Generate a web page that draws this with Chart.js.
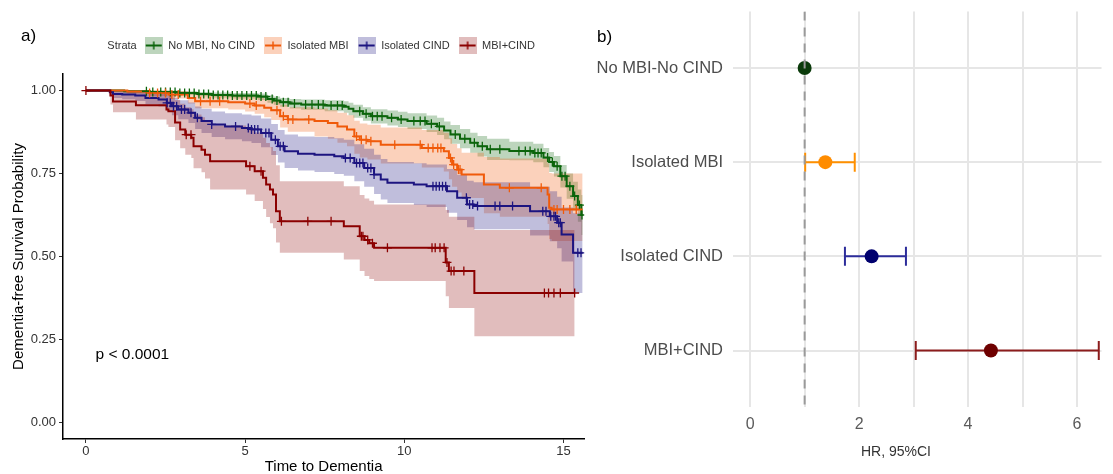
<!DOCTYPE html>
<html>
<head>
<meta charset="utf-8">
<script src="https://cdn.jsdelivr.net/npm/chart.js@4.4.1/dist/chart.umd.min.js"></script>
<style>
html,body{margin:0;padding:0;background:#fff;}
#wrap{position:relative;width:1113px;height:474px;overflow:hidden;background:#fff;}
#ca{position:absolute;left:0;top:0;}
#cb{position:absolute;left:590px;top:0;}
.tag{position:absolute;font-family:'Liberation Sans',Arial,Helvetica,sans-serif;font-size:17px;color:#000;line-height:20px;}
</style>
</head>
<body>
<div id="wrap">
  <canvas id="ca" width="590" height="474"></canvas>
  <canvas id="cb" width="523" height="474"></canvas>
  <div class="tag" style="left:21px;top:26px;">a)</div>
  <div class="tag" style="left:597px;top:27px;">b)</div>
</div>
<script>
// ---------------- DATA: panel a (Kaplan-Meier) ----------------
const kmGroups = ['No MBI, No CIND', 'Isolated MBI', 'Isolated CIND', 'MBI+CIND'];
const kmLegendTitle = 'Strata';
const kmXTitle = 'Time to Dementia';
const kmYTitle = 'Dementia-free Survival Probability';
const kmTicksX = [0, 5, 10, 15];
const kmTicksY = [0, 0.25, 0.5, 0.75, 1];
const pValueText = 'p < 0.0001';

const greenTime  = [0, 1.2, 2.0, 2.9, 3.5, 3.95, 4.6, 5.4, 5.7, 5.9, 6.1, 6.4, 6.76, 7.5, 8.1, 8.25, 8.4, 8.7, 8.95, 9.47, 9.8, 10.1, 10.7, 11.03, 11.25, 11.45, 11.75, 12.07, 12.3, 12.6, 13.3, 14.05, 14.37, 14.55, 14.7, 14.9, 15.1, 15.3, 15.45, 15.56, 15.6];
const greenSurv  = [1, 0.998, 0.996, 0.993, 0.99, 0.987, 0.985, 0.982, 0.975, 0.97, 0.965, 0.961, 0.958, 0.955, 0.951, 0.945, 0.938, 0.93, 0.923, 0.918, 0.913, 0.908, 0.9, 0.892, 0.88, 0.868, 0.855, 0.843, 0.832, 0.823, 0.818, 0.812, 0.798, 0.785, 0.772, 0.742, 0.712, 0.682, 0.655, 0.625, 0.625];
const greenUpper = [1, 1, 1, 0.998, 0.996, 0.994, 0.993, 0.991, 0.986, 0.982, 0.978, 0.975, 0.973, 0.971, 0.968, 0.963, 0.957, 0.95, 0.944, 0.94, 0.936, 0.932, 0.925, 0.918, 0.907, 0.896, 0.884, 0.873, 0.863, 0.855, 0.846, 0.84, 0.827, 0.815, 0.803, 0.776, 0.75, 0.725, 0.702, 0.685, 0.685];
const greenLower = [1, 0.995, 0.991, 0.987, 0.983, 0.979, 0.976, 0.972, 0.963, 0.957, 0.951, 0.946, 0.942, 0.938, 0.933, 0.926, 0.918, 0.909, 0.901, 0.895, 0.89, 0.884, 0.875, 0.866, 0.853, 0.84, 0.826, 0.813, 0.801, 0.791, 0.79, 0.784, 0.769, 0.755, 0.741, 0.708, 0.674, 0.639, 0.605, 0.565, 0.565];
const greenCensor = [1.9, 2.1, 2.35, 2.5, 2.65, 2.8, 2.95, 3.1, 3.25, 3.4, 3.55, 3.7, 3.85, 4.0, 4.15, 4.3, 4.45, 4.6, 4.75, 4.9, 5.05, 5.2, 5.35, 5.5, 5.65, 5.85, 6.0, 6.2, 6.35, 6.55, 6.9, 7.1, 7.3, 7.45, 7.7, 7.9, 8.05, 8.6, 8.8, 9.0, 9.15, 9.3, 9.6, 9.9, 10.3, 10.5, 10.65, 10.85, 11.1, 11.6, 11.9, 12.2, 12.45, 12.7, 13.0, 13.6, 13.8, 13.95, 14.1, 14.2, 14.3, 14.5, 14.65, 14.8, 14.95, 15.05, 15.2, 15.35, 15.5, 15.58];

const orangeTime  = [0, 1.3, 1.97, 2.6, 3.2, 3.43, 4.47, 5.0, 5.3, 5.6, 5.82, 6.1, 6.34, 7.18, 7.6, 7.9, 8.2, 8.43, 8.6, 8.84, 9.26, 10.55, 11.24, 11.4, 11.5, 11.66, 11.8, 12.5, 13.0, 14.5, 14.55, 14.63, 15.6];
const orangeSurv  = [1, 0.997, 0.993, 0.988, 0.978, 0.968, 0.965, 0.961, 0.955, 0.948, 0.941, 0.923, 0.913, 0.908, 0.902, 0.892, 0.883, 0.862, 0.852, 0.847, 0.837, 0.827, 0.817, 0.797, 0.777, 0.762, 0.747, 0.717, 0.707, 0.687, 0.647, 0.642, 0.642];
const orangeUpper = [1, 1, 1, 0.999, 0.994, 0.988, 0.986, 0.984, 0.98, 0.975, 0.97, 0.957, 0.95, 0.946, 0.941, 0.933, 0.926, 0.909, 0.901, 0.897, 0.889, 0.881, 0.873, 0.856, 0.839, 0.826, 0.813, 0.8, 0.795, 0.78, 0.752, 0.75, 0.75];
const orangeLower = [1, 0.991, 0.984, 0.976, 0.961, 0.947, 0.943, 0.937, 0.93, 0.92, 0.911, 0.889, 0.876, 0.862, 0.855, 0.843, 0.832, 0.81, 0.798, 0.792, 0.78, 0.768, 0.756, 0.733, 0.71, 0.693, 0.676, 0.63, 0.62, 0.598, 0.553, 0.547, 0.547];
const orangeCensor = [2.0, 2.25, 2.5, 2.7, 2.9, 3.6, 3.9, 4.2, 5.15, 5.35, 6.0, 6.2, 6.35, 6.5, 7.0, 8.5, 8.65, 8.8, 8.95, 9.7, 10.5, 10.75, 10.9, 11.05, 11.15, 11.45, 11.55, 11.7, 11.75, 13.3, 14.3, 14.7, 14.8, 15.0, 15.2, 15.4];

const blueTime  = [0, 0.75, 0.85, 1.14, 1.55, 1.87, 2.28, 2.54, 2.7, 2.9, 3.22, 3.43, 3.63, 3.95, 4.37, 4.9, 5.2, 5.5, 5.82, 6.03, 6.24, 6.66, 7.18, 7.8, 8.1, 8.43, 8.74, 9.05, 9.26, 9.47, 10.3, 10.7, 11.34, 11.66, 11.97, 12.18, 13.95, 14.57, 14.8, 14.94, 15.3, 15.6];
const blueSurv  = [1, 0.995, 0.99, 0.988, 0.985, 0.978, 0.973, 0.963, 0.953, 0.943, 0.933, 0.918, 0.908, 0.898, 0.892, 0.887, 0.883, 0.872, 0.852, 0.832, 0.817, 0.81, 0.807, 0.802, 0.797, 0.782, 0.767, 0.747, 0.732, 0.722, 0.717, 0.712, 0.697, 0.677, 0.657, 0.652, 0.636, 0.621, 0.602, 0.566, 0.511, 0.511];
const blueUpper = [1, 1, 1, 1, 0.998, 0.994, 0.991, 0.985, 0.978, 0.971, 0.964, 0.952, 0.945, 0.937, 0.932, 0.928, 0.925, 0.916, 0.899, 0.881, 0.868, 0.862, 0.86, 0.856, 0.852, 0.838, 0.825, 0.807, 0.794, 0.785, 0.781, 0.777, 0.764, 0.746, 0.728, 0.724, 0.71, 0.697, 0.68, 0.648, 0.63, 0.63];
const blueLower = [1, 0.985, 0.978, 0.974, 0.969, 0.959, 0.952, 0.939, 0.926, 0.914, 0.902, 0.884, 0.872, 0.86, 0.853, 0.847, 0.842, 0.829, 0.806, 0.783, 0.767, 0.759, 0.755, 0.749, 0.743, 0.727, 0.71, 0.688, 0.672, 0.661, 0.655, 0.649, 0.632, 0.61, 0.588, 0.582, 0.563, 0.546, 0.525, 0.485, 0.39, 0.39];
const blueCensor = [2.55, 2.65, 2.75, 2.85, 3.0, 3.1, 3.3, 3.5, 3.95, 4.7, 5.1, 5.2, 5.3, 5.4, 5.65, 5.75, 5.95, 6.1, 6.2, 8.15, 8.3, 8.5, 8.6, 8.7, 8.85, 8.95, 9.05, 10.9, 11.0, 11.1, 11.2, 11.3, 11.95, 12.05, 12.15, 12.3, 12.85, 13.0, 13.4, 14.35, 14.45, 14.6, 14.7, 14.75, 14.85, 14.9, 15.45, 15.55];

const redTime  = [0, 0.77, 0.85, 1.57, 2.53, 2.59, 2.8, 2.96, 3.12, 3.31, 3.38, 3.63, 3.74, 3.9, 5.03, 5.3, 5.56, 5.66, 5.78, 5.875, 5.97, 6.09, 8.1, 8.6, 8.75, 8.9, 9.05, 11.3, 11.4, 12.2, 15.35];
const redSurv  = [1, 0.985, 0.967, 0.956, 0.943, 0.938, 0.904, 0.883, 0.867, 0.858, 0.832, 0.822, 0.807, 0.787, 0.772, 0.757, 0.737, 0.717, 0.702, 0.687, 0.636, 0.606, 0.591, 0.561, 0.55, 0.54, 0.526, 0.482, 0.456, 0.39, 0.39];
const redUpper = [1, 1, 0.999, 0.995, 0.99, 0.988, 0.972, 0.96, 0.95, 0.944, 0.928, 0.92, 0.91, 0.895, 0.886, 0.874, 0.858, 0.842, 0.83, 0.818, 0.775, 0.727, 0.712, 0.685, 0.675, 0.668, 0.657, 0.64, 0.62, 0.58, 0.58];
const redLower = [1, 0.958, 0.935, 0.913, 0.898, 0.89, 0.85, 0.826, 0.807, 0.797, 0.766, 0.754, 0.735, 0.702, 0.687, 0.667, 0.643, 0.619, 0.6, 0.585, 0.542, 0.511, 0.491, 0.456, 0.441, 0.432, 0.426, 0.38, 0.345, 0.26, 0.26];
const redCensor = [0, 3.15, 3.3, 5.15, 5.5, 6.14, 6.97, 7.7, 8.65, 8.7, 8.85, 9.0, 9.47, 10.87, 10.97, 11.12, 11.25, 11.34, 11.47, 11.56, 11.87, 14.4, 14.53, 14.7, 14.9, 15.35];

// ---------------- DATA: panel b (forest plot) ----------------
const forestLabels = ['No MBI-No CIND', 'Isolated MBI', 'Isolated CIND', 'MBI+CIND'];
const hrEstimate = [1.00, 1.38, 2.23, 4.42];
const hrLower    = [null, 1.01, 1.74, 3.04];
const hrUpper    = [null, 1.92, 2.86, 6.40];
const hrReference = 1;
const hrTicks = [0, 1, 2, 3, 4, 5, 6];
const hrTitle = 'HR, 95%CI';

// ---------------- styling ----------------
const FONT = "'Liberation Sans', Arial, Helvetica, sans-serif";
const kmStyles = [
  {line: '#0b640b', band: 'rgba(11,100,11,0.27)'},
  {line: '#f05a0a', band: 'rgba(240,90,10,0.28)'},
  {line: '#1c1480', band: 'rgba(28,20,128,0.28)'},
  {line: '#8b0000', band: 'rgba(139,0,0,0.26)'}
];
const kmSeries = [
  {time: greenTime, surv: greenSurv, upper: greenUpper, lower: greenLower, censor: greenCensor},
  {time: orangeTime, surv: orangeSurv, upper: orangeUpper, lower: orangeLower, censor: orangeCensor},
  {time: blueTime, surv: blueSurv, upper: blueUpper, lower: blueLower, censor: blueCensor},
  {time: redTime, surv: redSurv, upper: redUpper, lower: redLower, censor: redCensor}
];
const forestPointColors = ['#0b3b0b', '#ff8c00', '#00006e', '#6e0000'];
const forestBarColors = ['#0b3b0b', '#ff9000', '#2c2c9a', '#8c1c1c'];

function stepValueAt(times, surv, t) {
  let v = surv[0];
  for (let i = 0; i < times.length; i++) { if (times[i] <= t) v = surv[i]; else break; }
  return v;
}

function keyImage(fill, line) {
  const c = document.createElement('canvas');
  c.width = 18; c.height = 17;
  const g = c.getContext('2d');
  g.fillStyle = '#fff'; g.fillRect(0, 0, 18, 17);
  g.fillStyle = fill; g.fillRect(0, 0, 18, 17);
  g.strokeStyle = line; g.lineWidth = 2;
  g.beginPath(); g.moveTo(1, 8.5); g.lineTo(17, 8.5); g.stroke();
  g.lineWidth = 1.5;
  g.beginPath(); g.moveTo(9, 4.5); g.lineTo(9, 12.5); g.stroke();
  return c;
}
const blankKey = document.createElement('canvas'); blankKey.width = 1; blankKey.height = 1;

// ---------------- panel a ----------------
const dsA = [];
kmSeries.forEach((s, k) => {
  dsA.push({label: kmGroups[k] + ' upper', data: s.time.map((t, i) => ({x: t, y: s.upper[i]})),
    stepped: 'before', borderWidth: 0, borderColor: 'transparent', pointRadius: 0,
    fill: '+1', backgroundColor: kmStyles[k].band, order: 23 - k});
  dsA.push({label: kmGroups[k] + ' lower', data: s.time.map((t, i) => ({x: t, y: s.lower[i]})),
    stepped: 'before', borderWidth: 0, borderColor: 'transparent', pointRadius: 0,
    fill: false, order: 23 - k});
});
kmSeries.forEach((s, k) => {
  dsA.push({label: kmGroups[k], data: s.time.map((t, i) => ({x: t, y: s.surv[i]})),
    stepped: 'before', borderColor: kmStyles[k].line, borderWidth: 2, pointRadius: 0,
    fill: false, order: 13 - k});
});
kmSeries.forEach((s, k) => {
  dsA.push({label: kmGroups[k] + ' censored', data: s.censor.map(t => ({x: t, y: stepValueAt(s.time, s.surv, t)})),
    showLine: false, pointStyle: 'cross', pointRadius: 4.5, pointBorderColor: kmStyles[k].line,
    pointBackgroundColor: kmStyles[k].line, pointBorderWidth: 1.3, order: 3 - k});
});

const legendGap = {
  id: 'legendGap',
  beforeLayout(chart) {
    const lg = chart.legend;
    if (lg && !lg.__patched) {
      const orig = lg.fit;
      lg.fit = function () { orig.call(this); this.height += 13; };
      lg.__patched = true;
    }
  }
};
const annotA = {
  id: 'annotA',
  afterDraw(chart) {
    const ctx = chart.ctx;
    ctx.save();
    const lg = chart.legend;
    if (lg && lg.legendHitBoxes && lg.legendHitBoxes[1]) {
      const hb = lg.legendHitBoxes[1];
      ctx.font = '11px ' + FONT;
      ctx.fillStyle = '#333';
      ctx.textAlign = 'right';
      ctx.textBaseline = 'middle';
      ctx.fillText(kmLegendTitle, hb.left - 8, hb.top + hb.height / 2);
    }
    const xs = chart.scales.x, ys = chart.scales.y;
    ctx.font = '15.5px ' + FONT;
    ctx.fillStyle = '#000';
    ctx.textAlign = 'left';
    ctx.textBaseline = 'middle';
    ctx.fillText(pValueText, xs.getPixelForValue(0.3), ys.getPixelForValue(0.205));
    ctx.restore();
  }
};

new Chart(document.getElementById('ca'), {
  type: 'line',
  data: {datasets: dsA},
  plugins: [legendGap, annotA],
  options: {
    responsive: false, animation: false, events: [],
    layout: {padding: {top: 31, right: 4, left: 0, bottom: 0}},
    plugins: {
      tooltip: {enabled: false},
      legend: {
        display: true, position: 'top', fullSize: false, align: 'center',
        labels: {
          usePointStyle: true, pointStyleWidth: 18, boxHeight: 11, padding: 9,
          color: '#333', font: {family: FONT, size: 11},
          generateLabels: () => {
            const items = [{text: '', fillStyle: 'rgba(0,0,0,0)', strokeStyle: 'rgba(0,0,0,0)', lineWidth: 0, pointStyle: blankKey, hidden: false, fontColor: '#333'}];
            kmGroups.forEach((g, k) => items.push({text: g, fillStyle: kmStyles[k].band, strokeStyle: kmStyles[k].line,
              lineWidth: 0, pointStyle: keyImage(kmStyles[k].band, kmStyles[k].line), hidden: false, fontColor: '#333'}));
            return items;
          }
        }
      }
    },
    scales: {
      x: {
        type: 'linear', min: -0.72, max: 15.65,
        afterBuildTicks: s => { s.ticks = kmTicksX.map(v => ({value: v})); },
        afterFit: s => { s.height = 35; },
        grid: {drawOnChartArea: false, drawTicks: true, tickLength: 4, tickColor: '#333', tickWidth: 1},
        border: {display: true, color: '#000', width: 1.5},
        ticks: {padding: 1, color: '#333', font: {family: FONT, size: 13}, callback: v => String(v), maxRotation: 0},
        title: {display: true, text: kmXTitle, color: '#000', font: {family: FONT, size: 15}, padding: {top: 0, bottom: -2}}
      },
      y: {
        type: 'linear', min: -0.05, max: 1.05,
        afterBuildTicks: s => { s.ticks = kmTicksY.map(v => ({value: v})); },
        afterFit: s => { s.width = 63; },
        grid: {drawOnChartArea: false, drawTicks: true, tickLength: 4, tickColor: '#333', tickWidth: 1},
        border: {display: true, color: '#000', width: 1.5},
        ticks: {padding: 3, color: '#333', font: {family: FONT, size: 13}, callback: v => Number(v).toFixed(2)},
        title: {display: true, text: kmYTitle, color: '#000', font: {family: FONT, size: 15}, padding: {top: 10, bottom: 0}}
      }
    }
  }
});

// ---------------- panel b ----------------
const forestYMin = 0.4, forestYMax = 4.6;
const dsB = [];
hrEstimate.forEach((v, i) => {
  if (hrLower[i] === null) return;
  dsB.push({label: forestLabels[i] + ' CI', data: [{x: hrLower[i], y: i + 1}, {x: hrUpper[i], y: i + 1}],
    showLine: true, borderColor: forestBarColors[i], borderWidth: 2,
    pointStyle: 'line', pointRotation: 90, pointRadius: 9.5, pointBorderColor: forestBarColors[i],
    pointBorderWidth: 2, order: 2});
});
dsB.push({label: 'HR', data: hrEstimate.map((v, i) => ({x: v, y: i + 1})), showLine: false,
  pointRadius: 7, pointBackgroundColor: forestPointColors, pointBorderWidth: 0, order: 1});
dsB.push({label: 'reference', data: [{x: hrReference, y: forestYMin}, {x: hrReference, y: forestYMax}],
  showLine: true, borderColor: '#9a9a9a', borderWidth: 2, borderDash: [9, 7], pointRadius: 0, order: 0});

const annotB = {
  id: 'annotB',
  afterDraw(chart) {
    const ctx = chart.ctx;
    ctx.save();
    ctx.font = '14px ' + FONT;
    ctx.fillStyle = '#333';
    ctx.textAlign = 'center';
    ctx.textBaseline = 'middle';
    ctx.fillText(hrTitle, 306, 452);
    ctx.restore();
  }
};

new Chart(document.getElementById('cb'), {
  type: 'scatter',
  data: {datasets: dsB},
  plugins: [annotB],
  options: {
    responsive: false, animation: false, events: [],
    layout: {padding: {top: 10, right: 0, left: 0, bottom: 0}},
    plugins: {legend: {display: false}, tooltip: {enabled: false}},
    scales: {
      x: {
        type: 'linear', min: -0.315, max: 6.45,
        afterBuildTicks: s => { s.ticks = hrTicks.map(v => ({value: v})); },
        afterFit: s => { s.height = 67; s.paddingLeft = 0; s.paddingRight = 0; },
        grid: {color: '#e6e6e6', lineWidth: 2, drawTicks: false},
        border: {display: false},
        ticks: {padding: 8, color: '#5a5a5a', font: {family: FONT, size: 16}, callback: v => (v % 2 === 0 ? String(v) : ''), maxRotation: 0, autoSkip: false}
      },
      y: {
        type: 'linear', min: forestYMin, max: forestYMax, reverse: true,
        afterBuildTicks: s => { s.ticks = [1, 2, 3, 4].map(v => ({value: v})); },
        afterFit: s => { s.width = 143; s.paddingTop = 0; s.paddingBottom = 0; },
        grid: {color: '#e6e6e6', lineWidth: 2, drawTicks: false},
        border: {display: false},
        ticks: {padding: 10, color: '#4d4d4d', font: {family: FONT, size: 16.5}, callback: v => forestLabels[v - 1] || '', autoSkip: false}
      }
    }
  }
});
</script>
</body>
</html>
